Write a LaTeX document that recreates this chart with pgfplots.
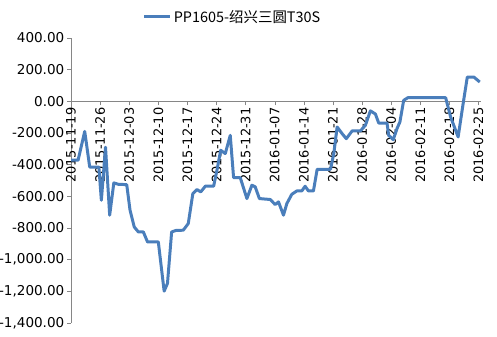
\documentclass[border=0pt]{standalone}
\usepackage{fontspec}
\setmainfont{DejaVu Sans}
\newfontfamily\cjk{Noto Sans CJK SC}
\usepackage{pgfplots}
\pgfplotsset{compat=1.18}
\definecolor{ser}{HTML}{4A7EBB}
\definecolor{axg}{HTML}{868686}
\begin{document}
\begin{tikzpicture}
\begin{axis}[
  set layers,
  scale only axis,
  width=410bp, height=285bp,
  xmin=0, xmax=98.6,
  ymin=-1400, ymax=400,
  axis x line=middle, axis y line=left,
  hide obscured x ticks=false, hide obscured y ticks=false,
  x axis line style={-, draw=axg},
  y axis line style={-, draw=axg},
  every tick/.style={draw=axg},
  tick align=outside,
  major tick length=4bp,
  xtick={0,7,14,21,28,35,42,49,56,63,70,77,84,91,98},
  xticklabels={2015-11-19,2015-11-26,2015-12-03,2015-12-10,2015-12-17,2015-12-24,2015-12-31,2016-01-07,2016-01-14,2016-01-21,2016-01-28,2016-02-04,2016-02-11,2016-02-18,2016-02-25},
  xticklabel style={rotate=90, anchor=east, font=\fontsize{13}{14}\selectfont, inner sep=2bp},
  ytick={-1400,-1200,-1000,-800,-600,-400,-200,0,200,400},
  yticklabels={{-1,400.00},{-1,200.00},{-1,000.00},-800.00,-600.00,-400.00,-200.00,0.00,200.00,400.00},
  yticklabel style={font=\fontsize{13.6}{15}\selectfont, inner sep=2.5bp},
  legend style={at={(0.394,1.074)}, anchor=center, draw=none, fill=none,
    font=\cjk\fontsize{14.5}{16}\selectfont, inner sep=0pt},
  legend image code/.code={\draw[#1, line width=3pt] (0bp,0bp) -- (26bp,0bp);},
  clip=false,
]
\addplot[ser, line width=3pt, line join=round, mark=none, on layer=axis foreground] coordinates {
(0,-372)(1.7,-372)(3.3,-190)(4.5,-415)(6.7,-415)(7.3,-625)(8.3,-290)(9.3,-719)
(10.3,-515)(11.4,-524)(13.4,-526)(14.2,-688)(15.2,-793)(16.2,-825)(17.4,-825)
(18.4,-888)(21.0,-888)(22.4,-1199)(23.2,-1150)(24.2,-825)(25.3,-815)(27.0,-814)
(28.2,-772)(29.3,-583)(30.3,-557)(31.2,-572)(32.3,-536)(34.3,-536)(35.1,-435)
(36.0,-309)(37.1,-330)(38.3,-215)(39.1,-482)(40.7,-482)(42.3,-614)(43.5,-530)
(44.3,-540)(45.3,-614)(47.9,-620)(49.1,-652)(49.9,-635)(51.1,-719)(51.9,-646)
(53.1,-587)(54.3,-566)(55.5,-566)(56.3,-536)(57.1,-566)(58.3,-566)(59.2,-429)
(62.4,-429)(63.2,-330)(64.0,-162)(65.2,-204)(66.2,-236)(67.6,-187)(69.6,-187)
(70.8,-151)(72.0,-60)(73.2,-80)(74.0,-137)(76.0,-137)(76.4,-215)(77.5,-242)
(78.4,-172)(79.1,-130)(80.0,6)(81.0,23)(90.1,23)(91.3,-99)(93.1,-225)(94.3,-15)
(95.3,153)(96.9,153)(98.3,122)
};
\addlegendentry{PP1605-绍兴三圆T30S}
\coordinate (bl) at (rel axis cs:0,0);
\coordinate (tr) at (rel axis cs:1,1);
\end{axis}
\pgfresetboundingbox
\path[use as bounding box] ([shift={(-71bp,-13bp)}]bl) rectangle ([shift={(16bp,38bp)}]tr);
\end{tikzpicture}
\end{document}
